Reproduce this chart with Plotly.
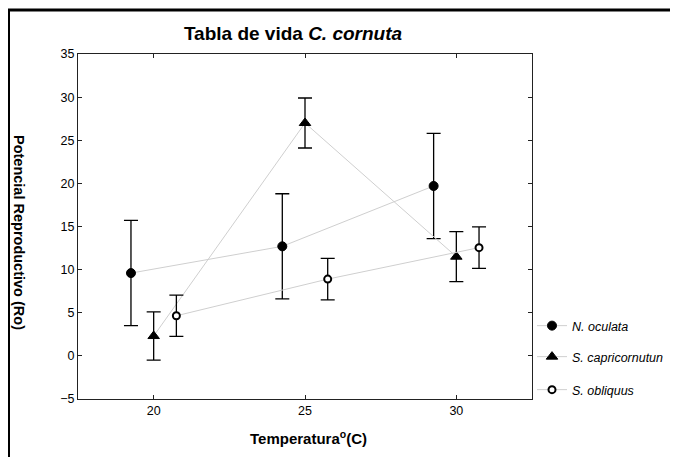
import plotly.graph_objects as go

# ---- data ----
temperatures = [20, 25, 30]
x_ticks = [20, 25, 30]
y_ticks = [-5, 0, 5, 10, 15, 20, 25, 30, 35]

series_names = ["N. oculata", "S. capricornutun", "S. obliquus"]
dodge = [-0.75, 0.0, 0.75]

ro_oculata = [9.6, 12.7, 19.7]
err_oculata = [6.1, 6.1, 6.1]

ro_capricornutum = [2.3, 27.0, 11.5]
err_capricornutum = [2.8, 2.9, 2.9]

ro_obliquus = [4.65, 8.9, 12.55]
err_obliquus = [2.4, 2.4, 2.4]

values = [ro_oculata, ro_capricornutum, ro_obliquus]
errors = [err_oculata, err_capricornutum, err_obliquus]

marker_styles = [
    dict(symbol="circle", size=9, color="black", line=dict(color="black", width=1)),
    dict(symbol="triangle-up", size=10, color="black", line=dict(color="black", width=1)),
    dict(symbol="circle", size=7, color="white", line=dict(color="black", width=2)),
]

fig = go.Figure()
legend_ids = ["legend", "legend2", "legend3"]
for i, name in enumerate(series_names):
    xs = [t + dodge[i] for t in temperatures]
    fig.add_trace(go.Scatter(
        x=xs, y=values[i], name="<i>" + name + "</i>",
        mode="lines+markers",
        line=dict(color="#cfcfcf", width=1),
        marker=marker_styles[i],
        error_y=dict(type="data", array=errors[i], visible=True,
                     color="black", thickness=1.3, width=7),
        legend=legend_ids[i],
        showlegend=True,
    ))

font_family = "Liberation Sans, Arial, sans-serif"
axis_common = dict(
    showline=True, linecolor="#222", linewidth=1, mirror="ticks",
    ticks="inside", ticklen=4, tickcolor="#222", showgrid=False,
    zeroline=False, tickfont=dict(family=font_family, size=12.5, color="black"),
)

legend_common = dict(
    font=dict(family=font_family, size=12.5, color="black"),
    bgcolor="rgba(0,0,0,0)", xanchor="left", yanchor="middle",
    itemwidth=30, visible=True,
)

# The page adds an 8px body margin; work in page pixels and convert.
PAGE_OFF = 8
FIG_W, FIG_H = 678 - PAGE_OFF, 457 - PAGE_OFF
PLOT_L, PLOT_R, PLOT_T, PLOT_B = 78, 532, 54, 399  # page pixels


def py_paper(py):
    return (PLOT_B - py) / (PLOT_B - PLOT_T)


def px_paper(px):
    return (px - PLOT_L) / (PLOT_R - PLOT_L)


fig.update_layout(
    width=FIG_W, height=FIG_H,
    margin=dict(l=PLOT_L - PAGE_OFF, r=FIG_W - (PLOT_R - PAGE_OFF),
                t=PLOT_T - PAGE_OFF, b=FIG_H - (PLOT_B - PAGE_OFF),
                autoexpand=False),
    showlegend=True,
    paper_bgcolor="white", plot_bgcolor="white",
    font=dict(family=font_family, color="black"),
    title=dict(text="<b>Tabla de vida <i>C. cornuta</i></b>",
               x=(293 - PAGE_OFF) / FIG_W, xanchor="center", xref="container",
               y=1 - (33 - PAGE_OFF) / FIG_H, yanchor="middle", yref="container",
               font=dict(family=font_family, size=19, color="black")),
    xaxis=dict(range=[17.5, 32.5], tickvals=x_ticks, **axis_common),
    yaxis=dict(range=[-5, 35], tickvals=y_ticks, **axis_common),
    legend=dict(x=px_paper(532), y=py_paper(326), **legend_common),
    legend2=dict(x=px_paper(532), y=py_paper(357), **legend_common),
    legend3=dict(x=px_paper(532), y=py_paper(390), **legend_common),
    annotations=[
        dict(text="<b>Temperatura<sup>o</sup>(C)</b>", xref="paper", yref="paper",
             x=px_paper(308), y=py_paper(437), showarrow=False,
             xanchor="center", yanchor="middle",
             font=dict(family=font_family, size=15, color="black")),
        dict(text="<b>Potencial Reproductivo (Ro)</b>", xref="paper", yref="paper",
             x=px_paper(19), y=py_paper(232), showarrow=False,
             textangle=90, xanchor="center", yanchor="middle",
             font=dict(family=font_family, size=14.5, color="black")),
    ],
    shapes=[
        dict(type="line", xref="paper", yref="paper",
             x0=px_paper(PAGE_OFF + 0.5), x1=px_paper(PAGE_OFF + 0.5),
             y0=py_paper(10), y1=py_paper(470),
             line=dict(color="black", width=3)),
        dict(type="line", xref="paper", yref="paper",
             x0=px_paper(PAGE_OFF), x1=px_paper(690),
             y0=py_paper(10), y1=py_paper(10),
             line=dict(color="black", width=3)),
    ],
)

fig.write_html("out.html")
